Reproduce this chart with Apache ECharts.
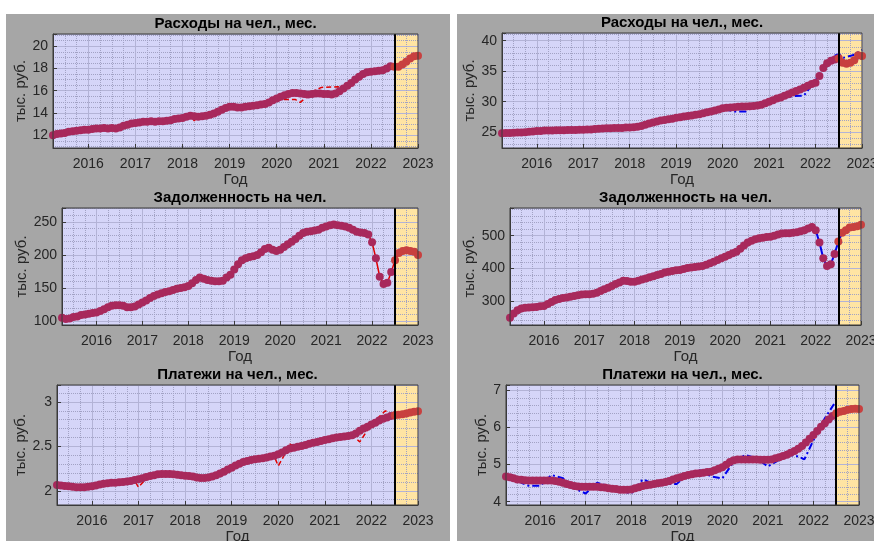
<!DOCTYPE html>
<html><head><meta charset="utf-8">
<script src="https://cdn.jsdelivr.net/npm/echarts@6/dist/echarts.min.js"></script>
<style>
html,body{margin:0;padding:0;background:#fff;}
#wrap{position:relative;width:874px;height:541px;overflow:hidden;}
.pan{position:absolute;background:#a6a6a6;}
#c{position:absolute;left:0;top:0;width:874px;height:541px;}
</style>
</head><body>
<div id="wrap">
<div class="pan" style="left:6px;top:14px;width:444px;height:527px"></div>
<div class="pan" style="left:457px;top:14px;width:417px;height:527px"></div>
<div id="c"></div>
</div>
<script>
// ---- time axis: monthly points, April 2015 .. January 2023 ----
const xStart = 2015.25, xEnd = 2023.0, forecastStart = 2022.5;
const xMonths = Array.from({length: 94}, (_, i) => +(xStart + i / 12).toFixed(5));
const yearTicks = [2016, 2017, 2018, 2019, 2020, 2021, 2022, 2023];

// ---- left column (dots, monthly) ----
const spendLeft = [
 12.0,12.1,12.15,12.2,12.3,12.35,12.4,12.45,12.5,
 12.5,12.55,12.6,12.6,12.65,12.6,12.65,12.6,12.7,12.85,12.95,13.05,
 13.1,13.15,13.2,13.2,13.25,13.2,13.25,13.25,13.3,13.35,13.45,13.5,
 13.55,13.65,13.75,13.7,13.65,13.7,13.75,13.85,13.95,14.1,14.3,14.45,
 14.55,14.55,14.5,14.5,14.55,14.6,14.65,14.7,14.75,14.8,14.95,15.15,
 15.3,15.45,15.6,15.7,15.8,15.8,15.75,15.7,15.65,15.7,15.75,15.75,
 15.7,15.7,15.65,15.75,15.95,16.2,16.45,16.7,17.0,17.25,17.5,17.65,
 17.7,17.75,17.8,17.85,18.0,18.2,18.15,18.15,18.35,18.6,18.9,19.1,
 19.15];
const debtLeft = [
 105,103,104,106,107,109,110,111,112,
 113,115,118,121,123,124,124,123,121,121,122,125,
 128,131,135,138,140,142,144,145,147,149,150,151,
 153,157,162,166,164,162,161,160,160,161,166,170,
 178,186,192,195,197,198,200,204,209,211,208,206,
 208,212,216,220,224,229,233,235,236,237,238,241,
 243,245,246,245,244,243,241,238,235,234,233,231,
 219,195,167,156,158,174,192,203,206,207,206,205,
 200];
const payLeft = [
 2.064,2.06,2.055,2.05,2.045,2.04,2.04,2.04,2.045,
 2.05,2.06,2.07,2.08,2.085,2.09,2.09,2.095,2.10,2.105,2.11,2.12,
 2.13,2.14,2.155,2.165,2.175,2.185,2.19,2.19,2.19,2.185,2.18,2.175,
 2.17,2.165,2.16,2.15,2.145,2.145,2.15,2.16,2.175,2.195,2.215,2.24,
 2.26,2.285,2.305,2.325,2.335,2.345,2.355,2.36,2.365,2.375,2.385,2.395,
 2.41,2.43,2.455,2.475,2.485,2.495,2.505,2.515,2.53,2.54,2.55,2.56,
 2.57,2.58,2.59,2.60,2.605,2.61,2.615,2.625,2.645,2.675,2.70,2.72,
 2.745,2.765,2.79,2.81,2.825,2.84,2.85,2.855,2.86,2.87,2.88,2.89,
 2.895];

// ---- right column (dots, monthly) ----
const spendRight = [
 24.8,24.85,24.85,24.9,24.95,24.95,25.0,25.05,25.1,
 25.2,25.2,25.25,25.25,25.25,25.3,25.3,25.3,25.35,25.35,25.35,25.4,
 25.4,25.45,25.45,25.5,25.55,25.6,25.65,25.65,25.7,25.7,25.7,25.75,
 25.75,25.8,25.9,26.0,26.2,26.4,26.6,26.75,26.9,27.0,27.1,27.2,
 27.35,27.45,27.55,27.65,27.75,27.85,27.95,28.1,28.25,28.4,28.55,28.7,
 28.9,29.0,29.05,29.1,29.15,29.2,29.2,29.25,29.3,29.35,29.5,29.75,
 30.0,30.25,30.5,30.7,30.95,31.2,31.5,31.75,32.0,32.3,32.6,32.9,
 33.1,34.2,35.5,36.3,36.7,36.9,37.1,36.4,36.2,36.4,36.8,37.6,
 37.5];
const debtRight = [
 249,262,272,277,279,280,281,282,284,
 285,291,297,303,306,309,311,313,315,318,320,321,
 321,322,325,331,336,341,346,352,357,362,361,359,
 359,362,366,369,373,376,380,383,387,390,392,394,
 395,398,401,403,404,406,407,411,416,420,426,431,
 436,441,446,451,460,470,479,485,489,492,494,496,
 497,500,504,507,508,508,509,511,514,517,522,527,
 517,479,431,407,413,444,482,509,517,525,527,529,
 534];
const payRight = [
 4.68,4.66,4.63,4.60,4.59,4.58,4.57,4.57,4.57,
 4.57,4.57,4.57,4.57,4.56,4.54,4.51,4.48,4.45,4.42,4.41,4.40,
 4.40,4.40,4.40,4.40,4.39,4.38,4.36,4.35,4.34,4.32,4.32,4.32,
 4.33,4.36,4.39,4.42,4.44,4.46,4.48,4.50,4.51,4.53,4.56,4.60,
 4.63,4.66,4.69,4.72,4.74,4.76,4.77,4.78,4.80,4.81,4.85,4.89,
 4.93,5.0,5.07,5.12,5.14,5.14,5.14,5.14,5.14,5.14,5.13,5.13,
 5.13,5.14,5.17,5.20,5.23,5.27,5.32,5.37,5.43,5.5,5.6,5.7,
 5.8,5.91,6.02,6.12,6.22,6.31,6.39,6.43,6.45,6.48,6.5,6.51,
 6.5];

// ---- raw lines ([year, value]) ----
const spendLeftRaw = [[2015.25,12.0],[2015.75,12.35],[2016.25,12.6],[2016.75,12.65],[2017.0,13.05],[2017.5,13.25],[2018.0,13.5],[2018.17,13.75],[2018.25,13.3],[2018.33,13.7],[2018.75,13.9],[2019.0,14.4],[2019.5,14.55],[2019.75,14.75],[2020.0,15.15],[2020.1,15.2],[2020.4,15.2],[2020.5,14.95],[2020.6,15.3],[2020.8,16.0],[2020.95,16.3],[2021.3,16.35],[2021.5,16.3],[2021.75,17.1],[2022.0,17.7],[2022.25,17.8],[2022.5,18.2]];
const payLeftRaw = [[2015.25,2.064],[2015.75,2.04],[2016.25,2.08],[2016.75,2.10],[2016.92,2.11],[2017.0,2.04],[2017.1,2.10],[2017.25,2.165],[2017.5,2.19],[2018.0,2.17],[2018.5,2.15],[2019.0,2.26],[2019.5,2.355],[2019.92,2.38],[2020.0,2.28],[2020.15,2.42],[2020.25,2.525],[2020.4,2.49],[2020.75,2.54],[2021.0,2.57],[2021.25,2.625],[2021.5,2.615],[2021.6,2.62],[2021.75,2.55],[2021.85,2.63],[2022.0,2.745],[2022.2,2.85],[2022.3,2.9],[2022.42,2.86],[2022.5,2.85]];
const spendRightRaw = [[2015.25,24.8],[2016.0,25.2],[2016.92,25.4],[2017.0,25.6],[2017.1,25.4],[2017.5,25.65],[2018.0,25.75],[2018.5,26.6],[2018.75,27.2],[2019.0,27.35],[2019.5,28.0],[2019.75,28.4],[2020.0,28.8],[2020.25,28.4],[2020.5,28.4],[2020.6,29.0],[2020.75,29.8],[2020.85,29.5],[2021.0,30.0],[2021.25,30.5],[2021.5,30.9],[2021.75,31.0],[2021.85,32.0],[2022.0,33.5],[2022.1,35.0],[2022.2,36.2],[2022.4,37.5],[2022.5,37.8],[2022.6,37.2],[2022.8,37.6],[2023.0,38.5]];
const payRightRaw = [[2015.25,4.68],[2015.4,4.72],[2015.6,4.5],[2015.75,4.43],[2016.0,4.43],[2016.25,4.72],[2016.5,4.63],[2016.75,4.36],[2017.0,4.22],[2017.25,4.51],[2017.5,4.42],[2017.75,4.3],[2018.0,4.22],[2018.25,4.6],[2018.5,4.48],[2018.75,4.48],[2019.0,4.48],[2019.25,4.77],[2019.5,4.85],[2019.75,4.68],[2020.0,4.63],[2020.25,5.08],[2020.5,5.26],[2020.75,5.17],[2021.0,4.95],[2021.25,5.13],[2021.5,5.26],[2021.67,5.22],[2021.8,5.14],[2022.0,5.66],[2022.25,6.25],[2022.5,6.73]];

// ---- tick labels ----
const yTicksSpendL = [12,14,16,18,20];
const yTicksDebtL = [100,150,200,250];
const yTicksPayL = [2,2.5,3];
const yTicksSpendR = [25,30,35,40];
const yTicksDebtR = [300,400,500];
const yTicksPayR = [4,5,6,7];

const titles = ['Расходы на чел., мес.','Задолженность на чел.','Платежи на чел., мес.'];
const yName = 'тыс. руб.', xName = 'Год';

const pairs = vals => vals.map((v, i) => [xMonths[i], v]);

const FONT = '"Liberation Sans", Arial, sans-serif';
const RED = '#e00000', BLUE = '#0000ee';
const panels = [
 {title:titles[0], dots:spendLeft, raw:spendLeftRaw, rawColor:RED, rawDash:[5,3], rawW:1.5, ticks:yTicksSpendL, ymin:10.85, ymax:21.1, split:5, minor:4, g:{left:53,top:34,width:365,height:114}, nameGap:25},
 {title:titles[1], dots:debtLeft, raw:pairs(debtLeft), rawColor:RED, rawDash:'solid', rawW:1.5, ticks:yTicksDebtL, ymin:94, ymax:271, split:4, minor:5, g:{left:62,top:208,width:356,height:117}, nameGap:29},
 {title:titles[2], dots:payLeft, raw:payLeftRaw, rawColor:RED, rawDash:[5,3], rawW:1.5, ticks:yTicksPayL, ymin:1.84, ymax:3.19, split:3, minor:5, g:{left:57,top:385,width:361,height:120}, nameGap:24},
 {title:titles[0], dots:spendRight, raw:spendRightRaw, rawColor:BLUE, rawDash:[7,3,2,3], rawW:2, ticks:yTicksSpendR, ymin:22.4, ymax:41.26, split:4, minor:5, g:{left:502,top:33,width:360,height:115}, nameGap:22},
 {title:titles[1], dots:debtRight, raw:pairs(debtRight), rawColor:BLUE, rawDash:'solid', rawW:2, ticks:yTicksDebtR, ymin:226.5, ymax:585, split:4, minor:5, g:{left:510,top:208,width:351,height:117}, nameGap:30},
 {title:titles[2], dots:payRight, raw:payRightRaw, rawColor:BLUE, rawDash:[7,3,2,3], rawW:2, ticks:yTicksPayR, ymin:3.91, ymax:7.15, split:3, minor:5, g:{left:506,top:385,width:353,height:120}, nameGap:16}
];

const LAV = '#d5d5f8', YEL = '#ffe4a3';
const grid = [], xAxis = [], yAxis = [], series = [], graphic = [];
panels.forEach((p, i) => {
  grid.push(Object.assign({show:true, backgroundColor:'transparent', borderColor:'#3a3a3a', borderWidth:1, z:10, outerBoundsMode:'none', containLabel:false}, p.g));
  xAxis.push({
    type:'value', gridIndex:i, min:xStart, max:xEnd, splitNumber:8, z:2,
    axisLine:{show:true, onZero:false, lineStyle:{color:'#3a3a3a'}},
    axisTick:{show:true, inside:true, length:4, lineStyle:{color:'#3a3a3a'}},
    axisLabel:{color:'#262626', fontSize:14, fontFamily:FONT, margin:9,
      formatter: v => yearTicks.some(t => Math.abs(t - v) < 1e-6) ? String(Math.round(v)) : ''},
    splitLine:{show:true, lineStyle:{color:'#b3b3d6', width:1}},
    minorTick:{show:false, splitNumber:4},
    minorSplitLine:{show:true, lineStyle:{color:'#a2a2c4', width:1, type:'dotted'}},
    name:xName, nameLocation:'middle', nameGap:24,
    nameTextStyle:{color:'#262626', fontSize:15, fontFamily:FONT}
  });
  yAxis.push({
    type:'value', gridIndex:i, min:p.ymin, max:p.ymax, splitNumber:p.split, z:2,
    axisLine:{show:true, onZero:false, lineStyle:{color:'#3a3a3a'}},
    axisTick:{show:true, inside:true, length:4, lineStyle:{color:'#3a3a3a'}},
    axisLabel:{color:'#262626', fontSize:14, fontFamily:FONT, margin:5,
      formatter: v => p.ticks.some(t => Math.abs(t - v) < 1e-6) ? String(+v.toFixed(3)) : ''},
    splitLine:{show:true, lineStyle:{color:'#b3b3d6', width:1}},
    minorTick:{show:false, splitNumber:p.minor},
    minorSplitLine:{show:true, lineStyle:{color:'#a2a2c4', width:1, type:'dotted'}},
    name:yName, nameLocation:'middle', nameGap:p.nameGap,
    nameTextStyle:{color:'#262626', fontSize:15, fontFamily:FONT}
  });
  // background (plot area + forecast band)
  series.push({
    type:'line', xAxisIndex:i, yAxisIndex:i, data:[], z:1, silent:true,
    markArea:{silent:true, label:{show:false}, data:[
      [{xAxis:xStart, itemStyle:{color:LAV, opacity:1}}, {xAxis:forecastStart}],
      [{xAxis:forecastStart, itemStyle:{color:YEL, opacity:1}}, {xAxis:xEnd}]
    ]}
  });
  // raw line
  series.push({
    type:'line', xAxisIndex:i, yAxisIndex:i, data:p.raw, z:3, silent:true,
    showSymbol:false, symbol:'none', animation:false,
    lineStyle:{color:p.rawColor, width:p.rawW, type:p.rawDash}
  });
  const all = pairs(p.dots);
  series.push({
    type:'scatter', xAxisIndex:i, yAxisIndex:i, z:4, silent:true, animation:false,
    data: all.filter(d => d[0] < forecastStart - 1e-6),
    symbolSize:8, itemStyle:{color:'#a8295c', opacity:1}
  });
  series.push({
    type:'scatter', xAxisIndex:i, yAxisIndex:i, z:4, silent:true, animation:false,
    data: all.filter(d => d[0] >= forecastStart - 1e-6),
    symbolSize:8, itemStyle:{color:'#c8403f', opacity:1},
    markLine:{silent:true, symbol:['none','none'], label:{show:false}, animation:false,
      lineStyle:{color:'#000', width:2, type:'solid'}, data:[{xAxis:forecastStart}]}
  });
  graphic.push({
    type:'text', x:p.g.left + p.g.width/2, y:p.g.top - 10, z:20,
    style:{text:p.title, fill:'#000', font:'bold 15px ' + FONT, align:'center', verticalAlign:'middle', textAlign:'center', textVerticalAlign:'middle'}
  });
});

const chart = echarts.init(document.getElementById('c'), null, {renderer:'canvas'});
chart.setOption({
  animation:false, backgroundColor:'transparent',
  grid, xAxis, yAxis, series, graphic
});
</script>
</body></html>
